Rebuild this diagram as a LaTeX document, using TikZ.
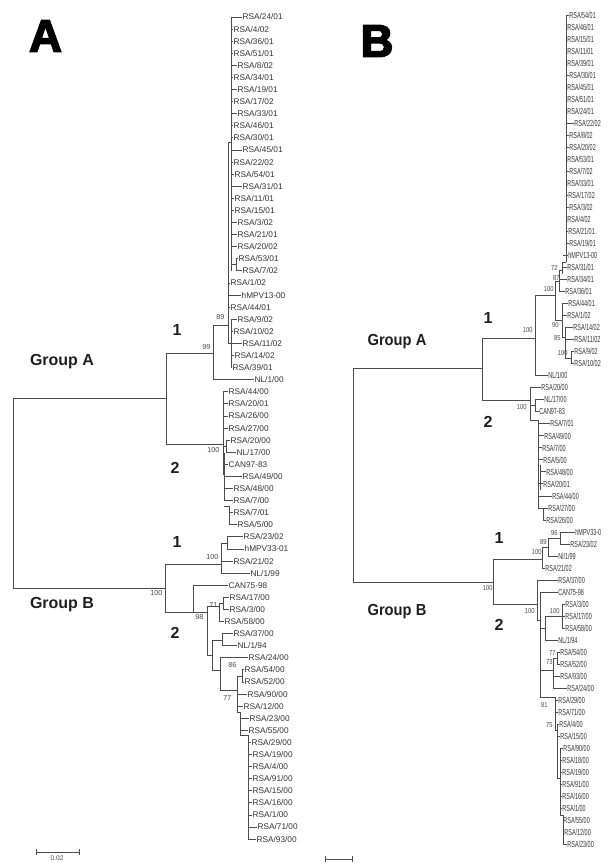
\documentclass[tikz,border=0pt]{standalone}
\usepackage{fontspec}
\setmainfont{Liberation Sans}
\newfontfamily\heavy[UprightFont={* Bold},FakeBold=3.5]{Liberation Sans}
\tikzset{
  br/.style={draw=black!70, line width=0.6pt},
  lfA/.style={anchor=west, inner sep=0.3pt, font=\fontsize{6.2}{7}\selectfont, text=black!80},
  lfB/.style={anchor=west, inner sep=0.3pt, font=\fontsize{6.6}{7}\selectfont, text=black!80, xscale=0.62},
  bsA/.style={anchor=east, inner sep=0.3pt, font=\fontsize{5.4}{6}\selectfont, text=black!72},
  bsB/.style={anchor=east, inner sep=0.3pt, font=\fontsize{5.4}{6}\selectfont, text=black!72, xscale=0.8},
  grp/.style={inner sep=0pt, font=\fontsize{12}{14}\bfseries\selectfont, text=black!88},
  big/.style={inner sep=0pt, font=\heavy\fontsize{34}{36}\selectfont},
}
\newcommand\LA[4]{\pgfmathsetmacro\yy{17+(#1-1)*12.09}%
  \node[lfA] (a#1) at (#3,\yy) {#4};\draw[br] (#2,\yy) -- (a#1.west);}
\newcommand\LB[4]{\pgfmathsetmacro\yy{15.5+(#1-1)*12.01}%
  \node[lfB] (b#1) at (#3,\yy) {#4};\draw[br] (#2,\yy) -- (b#1.west);}
\newcommand\V[3]{\draw[br] (#1,#2) -- (#1,#3);}
\newcommand\HH[3]{\draw[br] (#1,#3) -- (#2,#3);}
\begin{document}
\begin{tikzpicture}[x=0.75pt,y=-0.75pt]
\useasboundingbox (0,0) rectangle (611,863);
% ================= PANEL A =================
\node[big] (labA) at (45.5,36) {A};
\LA{1}{231}{242}{RSA/24/01}
\LA{2}{231}{233}{RSA/4/02}
\LA{3}{231}{233}{RSA/36/01}
\LA{4}{231}{233}{RSA/51/01}
\LA{5}{231}{237}{RSA/8/02}
\LA{6}{231}{233}{RSA/34/01}
\LA{7}{231}{237}{RSA/19/01}
\LA{8}{231}{233}{RSA/17/02}
\LA{9}{231}{237}{RSA/33/01}
\LA{10}{231}{233}{RSA/46/01}
\LA{11}{231}{233}{RSA/30/01}
\LA{12}{231}{242}{RSA/45/01}
\LA{13}{231}{233}{RSA/22/02}
\LA{14}{231}{234}{RSA/54/01}
\LA{15}{231}{242}{RSA/31/01}
\LA{16}{231}{234}{RSA/11/01}
\LA{17}{231}{234}{RSA/15/01}
\LA{18}{231}{237}{RSA/3/02}
\LA{19}{231}{237}{RSA/21/01}
\LA{20}{231}{237}{RSA/20/02}
\LA{21}{236}{238}{RSA/53/01}
\LA{22}{236}{242}{RSA/7/02}
\LA{23}{228}{230}{RSA/1/02}
\LA{24}{228}{241}{hMPV13-00}
\LA{25}{228}{230}{RSA/44/01}
\LA{26}{231}{237}{RSA/9/02}
\LA{27}{231}{233}{RSA/10/02}
\LA{28}{231}{242}{RSA/11/02}
\LA{29}{231}{234}{RSA/14/02}
\LA{30}{231}{232}{RSA/39/01}
\LA{31}{213}{254}{NL/1/00}
\LA{32}{223}{228}{RSA/44/00}
\LA{33}{223}{228}{RSA/20/01}
\LA{34}{223}{228}{RSA/26/00}
\LA{35}{223}{228}{RSA/27/00}
\LA{36}{226}{230}{RSA/20/00}
\LA{37}{226}{236}{NL/17/00}
\LA{38}{223}{228}{CAN97-83}
\LA{39}{224}{242}{RSA/49/00}
\LA{40}{224}{233}{RSA/48/00}
\LA{41}{224}{233}{RSA/7/00}
\LA{42}{229}{233}{RSA/7/01}
\LA{43}{229}{237}{RSA/5/00}
\LA{44}{227}{243}{RSA/23/02}
\LA{45}{227}{244}{hMPV33-01}
\LA{46}{221}{233}{RSA/21/02}
\LA{47}{221}{250}{NL/1/99}
\LA{48}{193}{228}{CAN75-98}
\LA{49}{223}{229}{RSA/17/00}
\LA{50}{223}{229}{RSA/3/00}
\LA{51}{219}{224}{RSA/58/00}
\LA{52}{222}{233}{RSA/37/00}
\LA{53}{222}{237}{NL/1/94}
\LA{54}{220}{248}{RSA/24/00}
\LA{55}{242}{244}{RSA/54/00}
\LA{56}{242}{244}{RSA/52/00}
\LA{57}{237}{247}{RSA/90/00}
\LA{58}{237}{243}{RSA/12/00}
\LA{59}{240}{249}{RSA/23/00}
\LA{60}{240}{248}{RSA/55/00}
\LA{61}{248}{251}{RSA/29/00}
\LA{62}{248}{252}{RSA/19/00}
\LA{63}{248}{252}{RSA/4/00}
\LA{64}{248}{252}{RSA/91/00}
\LA{65}{248}{252}{RSA/15/00}
\LA{66}{248}{252}{RSA/16/00}
\LA{67}{248}{252}{RSA/1/00}
\LA{68}{248}{257}{RSA/71/00}
\LA{69}{248}{256}{RSA/93/00}
% internal branches A
\V{231}{17}{270.9}
\V{236}{258.8}{270.9}\HH{231}{236}{264.8}
\V{228}{142}{343.4}\HH{228}{231}{142}
\V{231}{319.3}{367.6}\HH{228}{231}{343.4}
\V{213}{325}{379.7}\HH{213}{228}{325}
\HH{166}{213}{353}
\V{166}{353}{444}
\V{223}{391.8}{475}\HH{166}{223}{444}
\V{226}{440.2}{452.2}\HH{223}{226}{446}
\V{224}{453}{500.6}
\V{229}{506}{524.8}\HH{224}{229}{506}
\V{13}{398}{588}\HH{13}{166}{398}\HH{13}{165}{588}
\V{165}{564}{612}
\HH{165}{221}{564}\V{221}{543}{573.1}
\V{227}{536.9}{549}\HH{221}{227}{543}
\HH{165}{207}{612}\V{193}{585.2}{612}
\V{207}{606}{655}
\V{223}{597.3}{609.4}\V{219}{603}{621.5}\HH{219}{223}{603}\HH{207}{219}{606}
\V{222}{633.6}{645.7}\V{212}{640}{670}\HH{212}{222}{640}\HH{207}{212}{655}
\V{220}{657.8}{690}\HH{212}{220}{670}
\V{242}{669.9}{682}\HH{237}{242}{676}
\V{237}{676}{712}\HH{220}{237}{690}
\V{240}{712}{735}\HH{237}{240}{712}
\V{248}{735}{839.1}\HH{240}{248}{735}
% bootstrap A
\node[bsA] (sA1) at (225,317) {89};
\node[bsA] (sA2) at (211,347) {99};
\node[bsA] (sA3) at (220,450) {100};
\node[bsA] (sA4) at (219,557) {100};
\node[bsA] (sA5) at (163,593) {100};
\node[bsA] (sA6) at (218,605) {71};
\node[bsA] (sA7) at (204,617) {98};
\node[bsA] (sA8) at (237,665) {86};
\node[bsA] (sA9) at (232,698) {77};
% group labels A
\node[grp] (gA1) at (177,330) {1};
\node[grp] (gAA) at (62,362) {Group A};
\node[grp] (gA2) at (175,468) {2};
\node[grp] (gB1) at (177,542) {1};
\node[grp] (gAB) at (62,605) {Group B};
\node[grp] (gB2) at (175,633) {2};
% scale bar A
\coordinate (sbA1) at (36,852); \coordinate (sbA2) at (79,852);
\draw[br] (sbA1) -- (sbA2);
\draw[br] ([yshift=2.5pt]sbA1) -- ([yshift=-2.5pt]sbA1);
\draw[br] ([yshift=2.5pt]sbA2) -- ([yshift=-2.5pt]sbA2);
\node[inner sep=0pt, font=\fontsize{5}{6}\selectfont, text=black!70] (sbAt) at (57,858.5) {0.02};
% ================= PANEL B =================
\node[big] (labB) at (377,41) {B};
\LB{1}{566}{569}{RSA/54/01}
\LB{2}{566}{567}{RSA/46/01}
\LB{3}{566}{567}{RSA/15/01}
\LB{4}{566}{567}{RSA/11/01}
\LB{5}{566}{567}{RSA/39/01}
\LB{6}{566}{569}{RSA/30/01}
\LB{7}{566}{567}{RSA/45/01}
\LB{8}{566}{567}{RSA/51/01}
\LB{9}{566}{567}{RSA/24/01}
\LB{10}{566}{574}{RSA/22/02}
\LB{11}{566}{569}{RSA/8/02}
\LB{12}{566}{569}{RSA/20/02}
\LB{13}{566}{567}{RSA/53/01}
\LB{14}{566}{569}{RSA/7/02}
\LB{15}{566}{567}{RSA/33/01}
\LB{16}{566}{568}{RSA/17/02}
\LB{17}{566}{569}{RSA/3/02}
\LB{18}{566}{567}{RSA/4/02}
\LB{19}{566}{568}{RSA/21/01}
\LB{20}{566}{569}{RSA/19/01}
\LB{21}{563}{568}{hMPV13-00}
\LB{22}{562}{567}{RSA/31/01}
\LB{23}{559}{567}{RSA/34/01}
\LB{24}{559}{565}{RSA/36/01}
\LB{25}{562}{568}{RSA/44/01}
\LB{26}{562}{567}{RSA/1/02}
\LB{27}{565}{573}{RSA/14/02}
\LB{28}{565}{574}{RSA/11/02}
\LB{29}{571}{574}{RSA/9/02}
\LB{30}{571}{574}{RSA/10/02}
\LB{31}{535}{548}{NL/1/00}
\LB{32}{530}{541}{RSA/20/00}
\LB{33}{535}{544}{NL/17/00}
\LB{34}{535}{539}{CAN97-83}
\LB{35}{538}{550}{RSA/7/01}
\LB{36}{538}{544}{RSA/49/00}
\LB{37}{538}{542}{RSA/7/00}
\LB{38}{538}{543}{RSA/5/00}
\LB{39}{540}{546}{RSA/48/00}
\LB{40}{538}{543}{RSA/20/01}
\LB{41}{538}{552}{RSA/44/00}
\LB{42}{538}{548}{RSA/27/00}
\LB{43}{543}{546}{RSA/26/00}
\LB{44}{560}{575}{hMPV33-0}
\LB{45}{560}{570}{RSA/23/02}
\LB{46}{548}{558}{Nl/1/99}
\LB{47}{542}{545}{RSA/21/02}
\LB{48}{537}{558}{RSA/37/00}
\LB{49}{540}{558}{CAN75-98}
\LB{50}{562}{565}{RSA/3/00}
\LB{51}{562}{565}{RSA/17/00}
\LB{52}{562}{565}{RSA/58/00}
\LB{53}{545}{558}{NL/1/94}
\LB{54}{557}{560}{RSA/54/00}
\LB{55}{557}{560}{RSA/52/00}
\LB{56}{553}{560}{RSA/93/00}
\LB{57}{553}{567}{RSA/24/00}
\LB{58}{555}{558}{RSA/29/00}
\LB{59}{555}{558}{RSA/71/00}
\LB{60}{557}{559}{RSA/4/00}
\LB{61}{557}{560}{RSA/15/00}
\LB{62}{560}{563}{RSA/90/00}
\LB{63}{560}{562}{RSA/18/00}
\LB{64}{560}{562}{RSA/19/00}
\LB{65}{560}{562}{RSA/91/00}
\LB{66}{560}{562}{RSA/16/00}
\LB{67}{560}{562}{RSA/1/00}
\LB{68}{563}{563}{RSA/55/00}
\LB{69}{563}{564}{RSA/12/00}
\LB{70}{563}{567}{RSA/23/00}
% internal branches B
\V{566}{15.5}{262}
\V{562}{262}{274}\HH{562}{566}{262}
\V{559}{270}{291.7}\HH{559}{562}{270}
\V{555}{281}{320}\HH{555}{559}{281}\HH{535}{555}{295}
\V{562}{303.7}{337}\HH{555}{562}{320}
\V{565}{327.8}{358}\HH{562}{565}{337}
\V{571}{351.8}{363.8}\HH{565}{571}{358}
\V{535}{295}{375.8}\HH{482}{535}{338}
\V{482}{338}{400}\HH{353}{482}{368}
\V{530}{387.8}{420}\HH{482}{530}{400}
\V{535}{399.8}{411.8}\HH{530}{535}{405.8}
\V{538}{420}{508}\HH{530}{538}{420}
\V{540}{465}{490}
\V{543}{508}{519.9}\HH{538}{543}{508}
\V{353}{368}{582}
\HH{353}{493}{582}
\V{493}{559}{604}
\HH{493}{542}{559}\V{542}{547}{568}
\HH{542}{548}{547}\V{548}{538}{555.9}
\HH{548}{560}{538}\V{560}{531.9}{543.9}
\HH{493}{537}{604}\V{537}{580}{620}
\HH{537}{540}{620}\V{540}{592}{697}
\HH{540}{545}{628}\V{545}{616}{640}
\HH{545}{562}{616}\V{562}{604}{628}
\HH{540}{553}{670}\V{553}{658}{688.1}
\HH{553}{557}{658}\V{557}{652}{664}
\HH{540}{555}{697}\V{555}{697}{730}
\HH{555}{557}{730}\V{557}{724.1}{778}
\HH{557}{560}{778}\V{560}{748.1}{815}
\HH{560}{563}{815}\V{563}{815}{844.2}
% bootstrap B
\node[bsB] (sB1) at (558,268) {72};
\node[bsB] (sB2) at (560,278) {87};
\node[bsB] (sB3) at (554,289) {100};
\node[bsB] (sB4) at (533,330) {100};
\node[bsB] (sB5) at (559,325) {90};
\node[bsB] (sB6) at (561,338) {85};
\node[bsB] (sB7) at (568,353) {100};
\node[bsB] (sB8) at (527,407) {100};
\node[bsB] (sB9) at (558,533) {96};
\node[bsB] (sB10) at (547,542) {89};
\node[bsB] (sB11) at (542,552) {100};
\node[bsB] (sB12) at (493,588) {100};
\node[bsB] (sB13) at (535,611) {100};
\node[bsB] (sB14) at (560,611) {100};
\node[bsB] (sB15) at (556,653) {77};
\node[bsB] (sB16) at (553,662) {73};
\node[bsB] (sB17) at (548,705) {81};
\node[bsB] (sB18) at (553,725) {75};
% group labels B
\node[grp] (hA1) at (488,318) {1};
\node[grp, xscale=0.92] (hAA) at (397,342) {Group A};
\node[grp] (hA2) at (488,422) {2};
\node[grp] (hB1) at (499,538) {1};
\node[grp, xscale=0.92] (hAB) at (397,612) {Group B};
\node[grp] (hB2) at (499,625) {2};
% scale bar B
\coordinate (sbB1) at (325,859); \coordinate (sbB2) at (352,859);
\draw[br] (sbB1) -- (sbB2);
\draw[br] ([yshift=2.5pt]sbB1) -- ([yshift=-2.5pt]sbB1);
\draw[br] ([yshift=2.5pt]sbB2) -- ([yshift=-2.5pt]sbB2);
\end{tikzpicture}
\end{document}
